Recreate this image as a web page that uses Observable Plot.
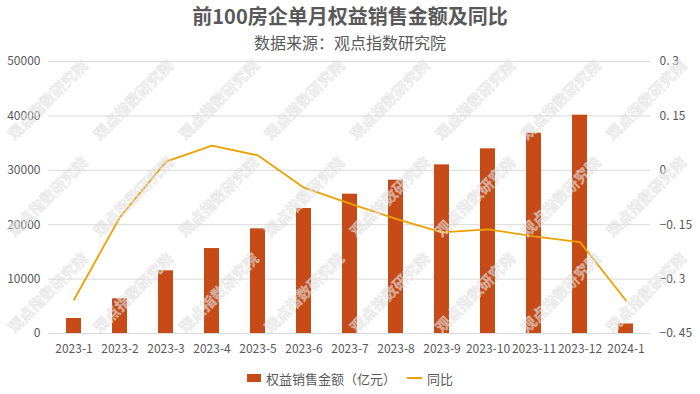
<!DOCTYPE html>
<html>
<head>
<meta charset="utf-8">
<script src="https://cdn.jsdelivr.net/npm/d3@7"></script>
<script src="https://cdn.jsdelivr.net/npm/@observablehq/plot@0.6"></script>
<style>
  html, body { margin: 0; padding: 0; background: #fff; }
  body { width: 700px; height: 394px; overflow: hidden; font-family: "Noto Sans CJK SC", "Noto Sans", sans-serif; color: #595959; position: relative; }
  #title { position: absolute; left: 0; width: 700px; top: 2px; text-align: center; font-size: 20px; font-weight: bold; line-height: 28px; }
  #subtitle { position: absolute; left: 0; width: 700px; top: 31px; text-align: center; font-size: 16px; line-height: 22px; }
  #chart { position: absolute; left: 0; top: 50px; }
  #legend { position: absolute; left: 0; top: 362px; width: 700px; display: flex; justify-content: center; align-items: center; font-size: 13px; gap: 5px; height: 32px; }
  .sw-bar { width: 14px; height: 8px; display: inline-block; }
  .sw-line { width: 15px; height: 2px; display: inline-block; margin-left: 6px; }
  svg { display: block; }
  #wm { position: absolute; left: 0; top: 0; pointer-events: none; }
</style>
</head>
<body>
<div id="title">前100房企单月权益销售金额及同比</div>
<div id="subtitle">数据来源：观点指数研究院</div>
<div id="chart"></div>
<div id="legend"></div>
<script>
const months = ["2023-1","2023-2","2023-3","2023-4","2023-5","2023-6","2023-7","2023-8","2023-9","2023-10","2023-11","2023-12","2024-1"];
const sales = [2760, 6380, 11520, 15620, 19240, 22980, 25610, 28180, 31000, 33950, 36820, 40130, 1750];
const yoy = [-0.357, -0.129, 0.024, 0.068, 0.041, -0.048, -0.092, -0.134, -0.171, -0.163, -0.182, -0.198, -0.359];
const leftTicks = [0, 10000, 20000, 30000, 40000, 50000];
const rightTicks = [-0.45, -0.3, -0.15, 0, 0.15, 0.3];
const rightTickLabels = ["−0. 45", "−0. 3", "−0. 15", "0", "0. 15", "0. 3"];
const seriesNames = ["权益销售金额（亿元）", "同比"];
const watermarkText = "观点指数研究院";

const barColor = "#C64B16";
const lineColor = "#EDA100";

const leftMax = 50000;
const rMin = rightTicks[0], rMax = rightTicks[rightTicks.length - 1];
const toLeft = v => (v - rMin) / (rMax - rMin) * leftMax;

const data = months.map((m, i) => ({month: m, sales: sales[i], yoy: yoy[i]}));

const chart = Plot.plot({
  width: 700,
  height: 312,
  marginTop: 11,
  marginBottom: 29,
  marginLeft: 48,
  marginRight: 50,
  style: {fontFamily: '"Noto Sans CJK SC", "Noto Sans", sans-serif', fontSize: "12px", color: "#595959", background: "transparent"},
  x: {type: "band", domain: months, paddingInner: 0.68, paddingOuter: 0.34, label: null},
  y: {domain: [0, leftMax], label: null},
  marks: [
    Plot.gridY(leftTicks, {stroke: "#d9d9d9", strokeOpacity: 1}),
    Plot.barY(data, {x: "month", y: "sales", fill: barColor}),
    Plot.line(data, {x: "month", y: d => toLeft(d.yoy), stroke: lineColor, strokeWidth: 1.8}),
    Plot.axisY(leftTicks, {anchor: "left", tickSize: 0, tickPadding: 8, tickFormat: d => String(d), label: null, fill: "#595959"}),
    Plot.axisY(rightTicks.map(toLeft), {anchor: "right", tickSize: 0, tickPadding: 9, label: null, fill: "#595959",
      tickFormat: d => rightTickLabels[rightTicks.findIndex(t => Math.abs(toLeft(t) - d) < 1e-6)]}),
    Plot.axisX({tickSize: 0, tickPadding: 11, label: null, fill: "#595959"})
  ]
});
document.getElementById("chart").appendChild(chart);

const legend = document.getElementById("legend");
legend.innerHTML = `<span class="sw-bar" style="background:${barColor}"></span><span>${seriesNames[0]}</span><span class="sw-line" style="background:${lineColor}"></span><span>${seriesNames[1]}</span>`;

// decorative watermark overlay (repeated diagonal text)
const wm = d3.select("body").append("svg").attr("id", "wm").attr("width", 700).attr("height", 394);
const wmCols = d3.range(8).map(i => 48 + i * 85.5);
const wmRows = [100, 197, 293];
for (const cy of wmRows) for (const cx of wmCols) {
  wm.append("text")
    .attr("transform", `translate(${cx},${cy}) rotate(-45)`)
    .attr("text-anchor", "middle").attr("dy", "0.35em")
    .attr("font-size", 15).attr("font-weight", "bold")
    .attr("font-family", '"Noto Sans CJK SC", sans-serif')
    .attr("fill", "rgba(236,236,236,0.6)")
    .attr("stroke", "rgba(200,200,200,0.4)").attr("stroke-width", 0.6)
    .text(watermarkText);
}
</script>
</body>
</html>
